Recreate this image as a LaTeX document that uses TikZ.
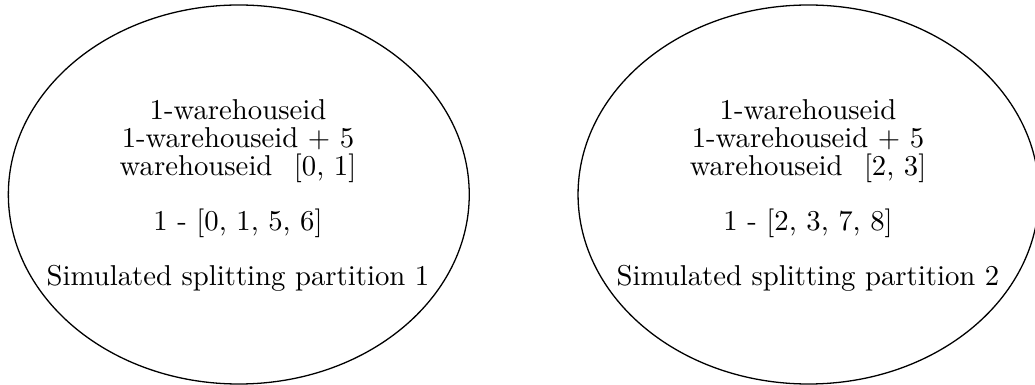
\documentclass[tikz,border=0pt]{standalone}
\usetikzlibrary{shapes.geometric}
\begin{document}
\begin{tikzpicture}[x=0.348pt,y=-0.348pt,
  part/.style={draw, ellipse, line width=0.45pt, inner sep=0pt,
    minimum width=160.4pt, minimum height=131.9pt},
  txt/.style={anchor=base, inner sep=0pt, font=\fontsize{10}{12}\selectfont}]
\clip (0,0) rectangle (1035,385);
\node[part] (p1) at (238.8,194.5) {};
\node[part] (p2) at (808.5,194.5) {};
% partition 1
\node[txt] (a1) at (238,120) {1-warehouseid};
\node[txt] (a2) at (238,147.7) {1-warehouseid + 5};
\node[txt] (a3) at (238,175.4) {warehouseid\hspace{7.5pt}[0, 1]};
\node[txt] (a4) at (238,231) {1 - [0, 1, 5, 6]};
\node[txt] (a5) at (238,286) {Simulated splitting partition 1};
% partition 2
\node[txt] (b1) at (808,120) {1-warehouseid};
\node[txt] (b2) at (808,147.7) {1-warehouseid + 5};
\node[txt] (b3) at (808,175.4) {warehouseid\hspace{7.5pt}[2, 3]};
\node[txt] (b4) at (808,231) {1 - [2, 3, 7, 8]};
\node[txt] (b5) at (808,286) {Simulated splitting partition 2};
\end{tikzpicture}
\end{document}
